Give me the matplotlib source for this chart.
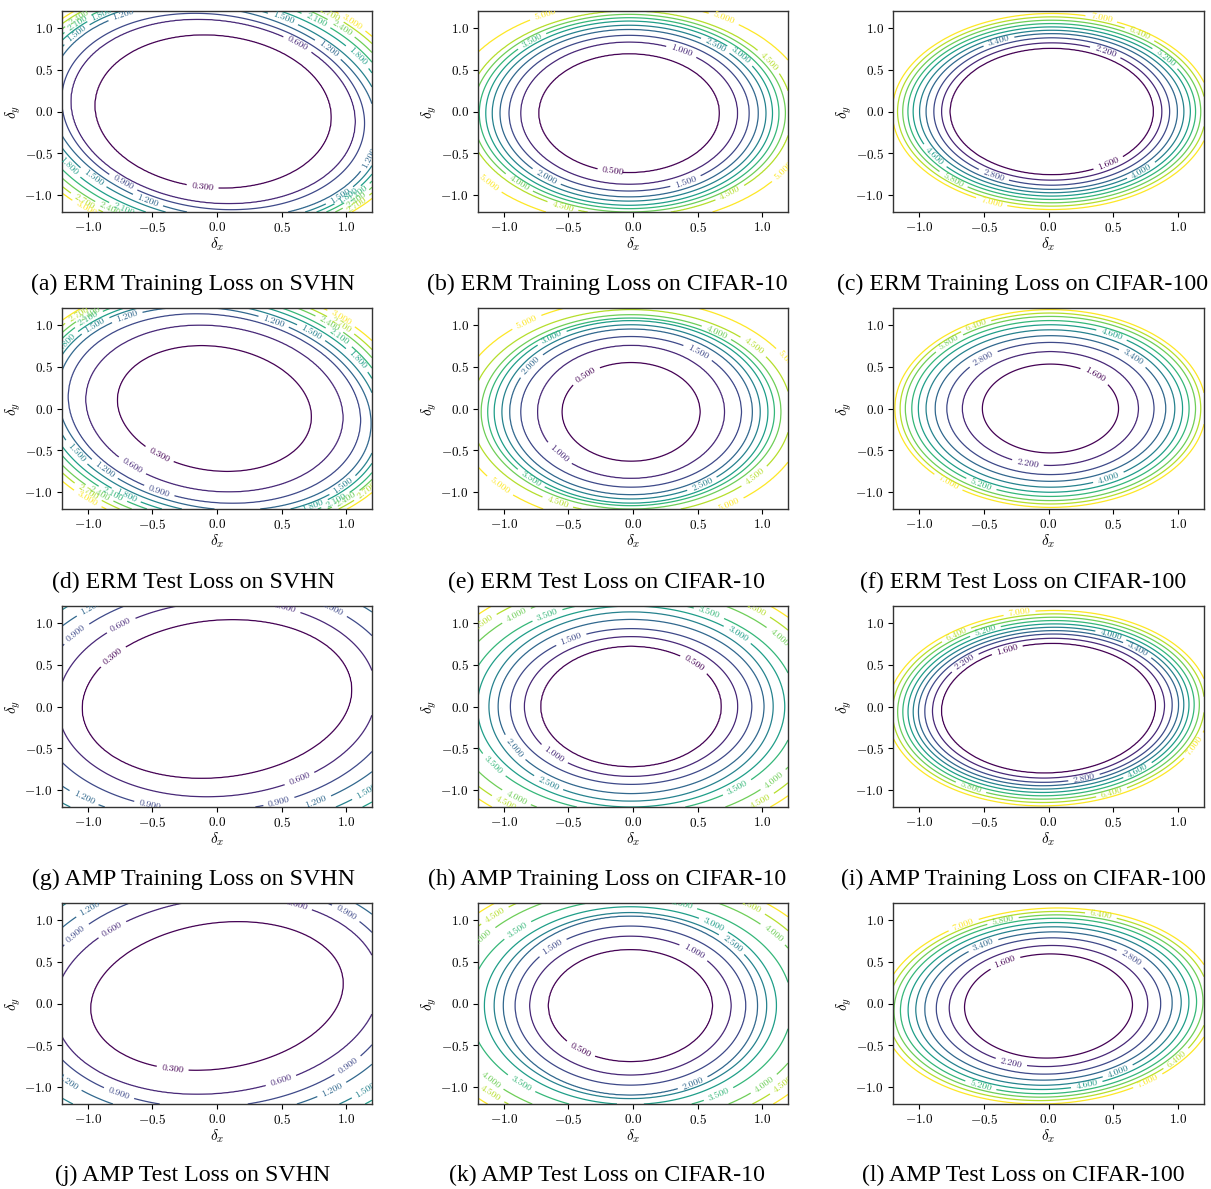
import numpy as np
import matplotlib
matplotlib.use("Agg")
import matplotlib.pyplot as plt
from matplotlib.colors import Normalize

## contour levels per dataset
svhn_levels = [0.3, 0.6, 0.9, 1.2, 1.5, 1.8, 2.1, 2.4, 2.7, 3.0]
c10_levels = [0.5, 1.0, 1.5, 2.0, 2.5, 3.0, 3.5, 4.0, 4.5, 5.0]
c100_levels = [1.6, 2.2, 2.8, 3.4, 4.0, 4.6, 5.2, 5.8, 6.4, 7.0]

## per panel: half size of every level contour along its two axes,
## centre of the basin and tilt of the axes (degrees)
a_u = [0.95, 1.16, 1.24, 1.36, 1.41, 1.45, 1.49, 1.53, 1.57, 1.61]
a_v = [0.88, 1.04, 1.10, 1.16, 1.22, 1.29, 1.35, 1.41, 1.47, 1.52]
a_centre, a_angle = (-0.03, 0.0), -45

b_u = [0.70, 0.84, 0.93, 1.00, 1.06, 1.11, 1.16, 1.21, 1.26, 1.40]
b_v = [0.71, 0.85, 0.93, 1.00, 1.05, 1.10, 1.14, 1.18, 1.22, 1.33]
b_centre, b_angle = (-0.03, -0.02), 0

c_u = [0.785, 0.85, 0.91, 0.97, 1.02, 1.07, 1.11, 1.15, 1.19, 1.23]
c_v = [0.755, 0.82, 0.88, 0.93, 0.97, 1.01, 1.05, 1.09, 1.13, 1.17]
c_centre, c_angle = (0.025, 0.0), 0

d_u = [0.80, 1.05, 1.20, 1.30, 1.36, 1.40, 1.45, 1.49, 1.54, 1.58]
d_v = [0.70, 0.94, 1.06, 1.12, 1.18, 1.24, 1.29, 1.35, 1.40, 1.46]
d_centre, d_angle = (-0.02, 0.0), -45

e_u = [0.535, 0.725, 0.855, 0.94, 1.00, 1.06, 1.11, 1.16, 1.24, 1.36]
e_v = [0.59, 0.795, 0.90, 0.99, 1.04, 1.09, 1.12, 1.16, 1.22, 1.34]
e_centre, e_angle = (-0.015, -0.04), 0

f_u = [0.525, 0.68, 0.80, 0.89, 0.96, 1.02, 1.07, 1.12, 1.16, 1.20]
f_v = [0.53, 0.68, 0.79, 0.87, 0.94, 1.00, 1.05, 1.10, 1.14, 1.18]
f_centre, f_angle = (0.015, 0.0), 0

g_u = [1.07, 1.25, 1.42, 1.60, 1.75, 1.90, 2.05, 2.20, 2.35, 2.50]
g_v = [0.92, 1.15, 1.32, 1.45, 1.58, 1.70, 1.82, 1.94, 2.06, 2.18]
g_centre, g_angle = (0.0, 0.09), 25

h_u = [0.70, 0.826, 0.935, 1.03, 1.10, 1.19, 1.28, 1.42, 1.53, 1.63]
h_v = [0.72, 0.835, 0.93, 1.04, 1.13, 1.20, 1.27, 1.40, 1.50, 1.60]
h_centre, h_angle = (-0.015, 0.0), 0

i_u = [0.83, 0.90, 0.96, 1.01, 1.05, 1.09, 1.13, 1.17, 1.21, 1.25]
i_v = [0.77, 0.83, 0.88, 0.92, 0.96, 1.00, 1.04, 1.08, 1.12, 1.16]
i_centre, i_angle = (0.0, -0.02), 15

j_u = [1.02, 1.30, 1.42, 1.55, 1.72, 1.90, 2.05, 2.20, 2.35, 2.50]
j_v = [0.84, 1.13, 1.30, 1.43, 1.60, 1.72, 1.85, 1.98, 2.10, 2.22]
j_centre, j_angle = (0.0, 0.09), 30

k_u = [0.636, 0.78, 0.893, 0.985, 1.055, 1.13, 1.25, 1.40, 1.52, 1.63]
k_v = [0.67, 0.83, 0.95, 1.07, 1.11, 1.18, 1.27, 1.40, 1.50, 1.60]
k_centre, k_angle = (-0.02, -0.025), 0

l_u = [0.65, 0.77, 0.87, 0.96, 1.03, 1.09, 1.15, 1.20, 1.25, 1.30]
l_v = [0.62, 0.72, 0.81, 0.88, 0.94, 0.99, 1.04, 1.08, 1.12, 1.16]
l_centre, l_angle = (0.0, -0.03), 15

captions = [
    "(a) ERM Training Loss on SVHN", "(b) ERM Training Loss on CIFAR-10",
    "(c) ERM Training Loss on CIFAR-100",
    "(d) ERM Test Loss on SVHN", "(e) ERM Test Loss on CIFAR-10",
    "(f) ERM Test Loss on CIFAR-100",
    "(g) AMP Training Loss on SVHN", "(h) AMP Training Loss on CIFAR-10",
    "(i) AMP Training Loss on CIFAR-100",
    "(j) AMP Test Loss on SVHN", "(k) AMP Test Loss on CIFAR-10",
    "(l) AMP Test Loss on CIFAR-100",
]

panels = [
    (svhn_levels, a_u, a_v, a_centre, a_angle),
    (c10_levels, b_u, b_v, b_centre, b_angle),
    (c100_levels, c_u, c_v, c_centre, c_angle),
    (svhn_levels, d_u, d_v, d_centre, d_angle),
    (c10_levels, e_u, e_v, e_centre, e_angle),
    (c100_levels, f_u, f_v, f_centre, f_angle),
    (svhn_levels, g_u, g_v, g_centre, g_angle),
    (c10_levels, h_u, h_v, h_centre, h_angle),
    (c100_levels, i_u, i_v, i_centre, i_angle),
    (svhn_levels, j_u, j_v, j_centre, j_angle),
    (c10_levels, k_u, k_v, k_centre, k_angle),
    (c100_levels, l_u, l_v, l_centre, l_angle),
]


def loss_surface(X, Y, levels, half_u, half_v, centre, angle):
    # surface whose level contours are the nested ellipses
    lev = np.asarray(levels, dtype=float)
    au = np.asarray(half_u)[:, None, None]
    av = np.asarray(half_v)[:, None, None]
    t = np.deg2rad(angle)
    dx = X - centre[0]
    dy = Y - centre[1]
    u = dx * np.cos(t) + dy * np.sin(t)
    v = -dx * np.sin(t) + dy * np.cos(t)
    s = np.sqrt((u / au) ** 2 + (v / av) ** 2)
    K = len(lev)
    jj = K - (s < 1).sum(axis=0)
    Z = np.empty_like(X)
    inner = jj == 0
    Z[inner] = lev[0] * s[0][inner] ** 2
    outer = jj == K
    Z[outer] = lev[-1] + (s[-1][outer] - 1) * (lev[-1] - lev[-2]) * 20
    mid = ~inner & ~outer
    jm = jj[mid]
    sm = s[:, mid]
    idx = np.arange(jm.size)
    s_out = sm[jm - 1, idx]
    s_in = sm[jm, idx]
    frac = (s_out - 1) / (s_out - s_in)
    Z[mid] = lev[jm - 1] + frac * (lev[jm] - lev[jm - 1])
    return Z


plt.rcParams["font.family"] = "serif"
plt.rcParams["font.serif"] = ["cmr10"]
plt.rcParams["mathtext.fontset"] = "cm"
plt.rcParams["axes.formatter.use_mathtext"] = True

W, H = 1211, 1189
fig = plt.figure(figsize=(W / 100, H / 100), dpi=100)

col_left = [62, 478, 893]
col_width = [310, 310, 311]
row_top = [11, 308, 606, 903]
row_height = 201
cap_x = [193, 607, 1023]
cap_y = [284, 582, 879, 1175]

x = np.linspace(-1.2, 1.2, 301)
X, Y = np.meshgrid(x, x)

for n, (lev, hu, hv, centre, angle) in enumerate(panels):
    r, c = divmod(n, 3)
    ax = fig.add_axes([col_left[c] / W, 1 - (row_top[r] + row_height) / H,
                       col_width[c] / W, row_height / H])
    Z = loss_surface(X, Y, lev, hu, hv, centre, angle)
    cs = ax.contour(X, Y, Z, levels=lev, cmap="viridis",
                    norm=Normalize(lev[0], lev[-1]), linewidths=0.9)
    ax.clabel(cs, inline=True, fontsize=7, fmt="%1.3f")
    ax.set_xlim(-1.2, 1.2)
    ax.set_ylim(-1.2, 1.2)
    ax.set_xticks([-1.0, -0.5, 0.0, 0.5, 1.0])
    ax.set_yticks([-1.0, -0.5, 0.0, 0.5, 1.0])
    ax.tick_params(labelsize=9.5, length=3.5, width=0.8, pad=3)
    ax.set_xlabel(r"$\delta_x$", fontsize=11, labelpad=0)
    ax.set_ylabel(r"$\delta_y$", fontsize=11, labelpad=1)
    for sp in ax.spines.values():
        sp.set_color("#333333")
        sp.set_linewidth(1.0)
    fig.text(cap_x[c] / W, 1 - cap_y[r] / H, captions[n],
             family="Liberation Serif", fontsize=17.2, ha="center", va="center")

fig.savefig("out.png", dpi=100)
